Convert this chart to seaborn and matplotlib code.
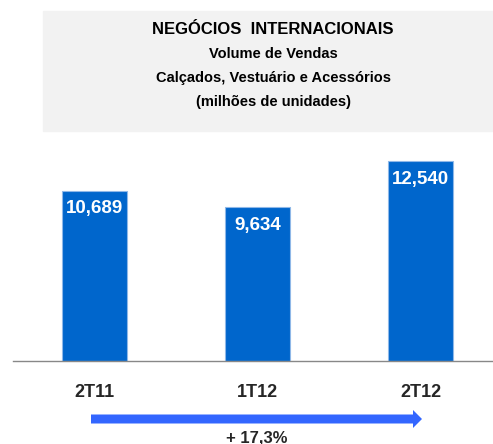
import matplotlib
matplotlib.use("Agg")
import matplotlib.pyplot as plt
import seaborn as sns
import pandas as pd
from matplotlib.patches import FancyArrow, Rectangle

# Data
quarters = ["2T11", "1T12", "2T12"]
volumes = [10.689, 9.634, 12.540]
value_labels = ["10,689", "9,634", "12,540"]
growth_label = "+ 17,3%"

title_lines = ["NEGÓCIOS  INTERNACIONAIS", "Volume de Vendas",
               "Calçados, Vestuário e Acessórios", "(milhões de unidades)"]

sns.set_style("white")
plt.rcParams["font.family"] = ["Liberation Sans", "DejaVu Sans"]

W, H = 493, 444
fig = plt.figure(figsize=(W / 100, H / 100), dpi=100)

# gray title box
fig.patches.append(Rectangle((43 / W, 1 - 131 / H), (W - 43) / W, 120 / H,
                             transform=fig.transFigure, color="#f2f2f2", zorder=0))
title_y = [29, 54, 78, 102]
for i, (line, y) in enumerate(zip(title_lines, title_y)):
    fig.text(273 / W, 1 - y / H, line, ha="center", va="center",
             fontsize=12 if i == 0 else 10.5, fontweight="bold", color="black")

# axes: baseline at y=361, categories spanning 13..502 px
ax = fig.add_axes([13 / W, 1 - 361 / H, 489 / W, 230 / H])
ax.patch.set_alpha(0)
df = pd.DataFrame({"quarter": quarters, "volume": volumes})
sns.barplot(data=df, x="quarter", y="volume", ax=ax, color="#0066cc",
            width=0.4, edgecolor="#8fb8e8", linewidth=0.8, saturation=1)
ax.set_xlim(-0.5, 2.5)
ax.set_ylim(0, 14.42)

for i, (v, lab) in enumerate(zip(volumes, value_labels)):
    ax.annotate(lab, (i, v), xytext=(0, -7), textcoords="offset points",
                ha="center", va="top", color="white", fontsize=13.5, fontweight="bold")

for s in ["top", "right", "left"]:
    ax.spines[s].set_visible(False)
ax.spines["bottom"].set_color("#888888")
ax.spines["bottom"].set_linewidth(1)
ax.set_yticks([])
ax.set_xticks([-0.5, 0.5, 1.5, 2.5])
ax.set_xticklabels([])
ax.tick_params(axis="x", direction="out", length=5, color="#888888", width=1)
for i, q in enumerate(quarters):
    ax.annotate(q, (i, 0), xytext=(0, -31 * 72 / 100), textcoords="offset points",
                ha="center", va="center", fontsize=13, fontweight="bold")
ax.set_xlabel("")
ax.set_ylabel("")

# growth arrow
fig.patches.append(FancyArrow(91 / W, 1 - 419 / H, 331 / W, 0, width=9 / H,
                              head_width=18 / H, head_length=9 / W,
                              length_includes_head=True, transform=fig.transFigure,
                              color="#3366ff", linewidth=0))
fig.text(257 / W, 1 - 438 / H, growth_label, ha="center", va="center",
         fontsize=12, fontweight="bold")

fig.savefig("out.png", dpi=100)
